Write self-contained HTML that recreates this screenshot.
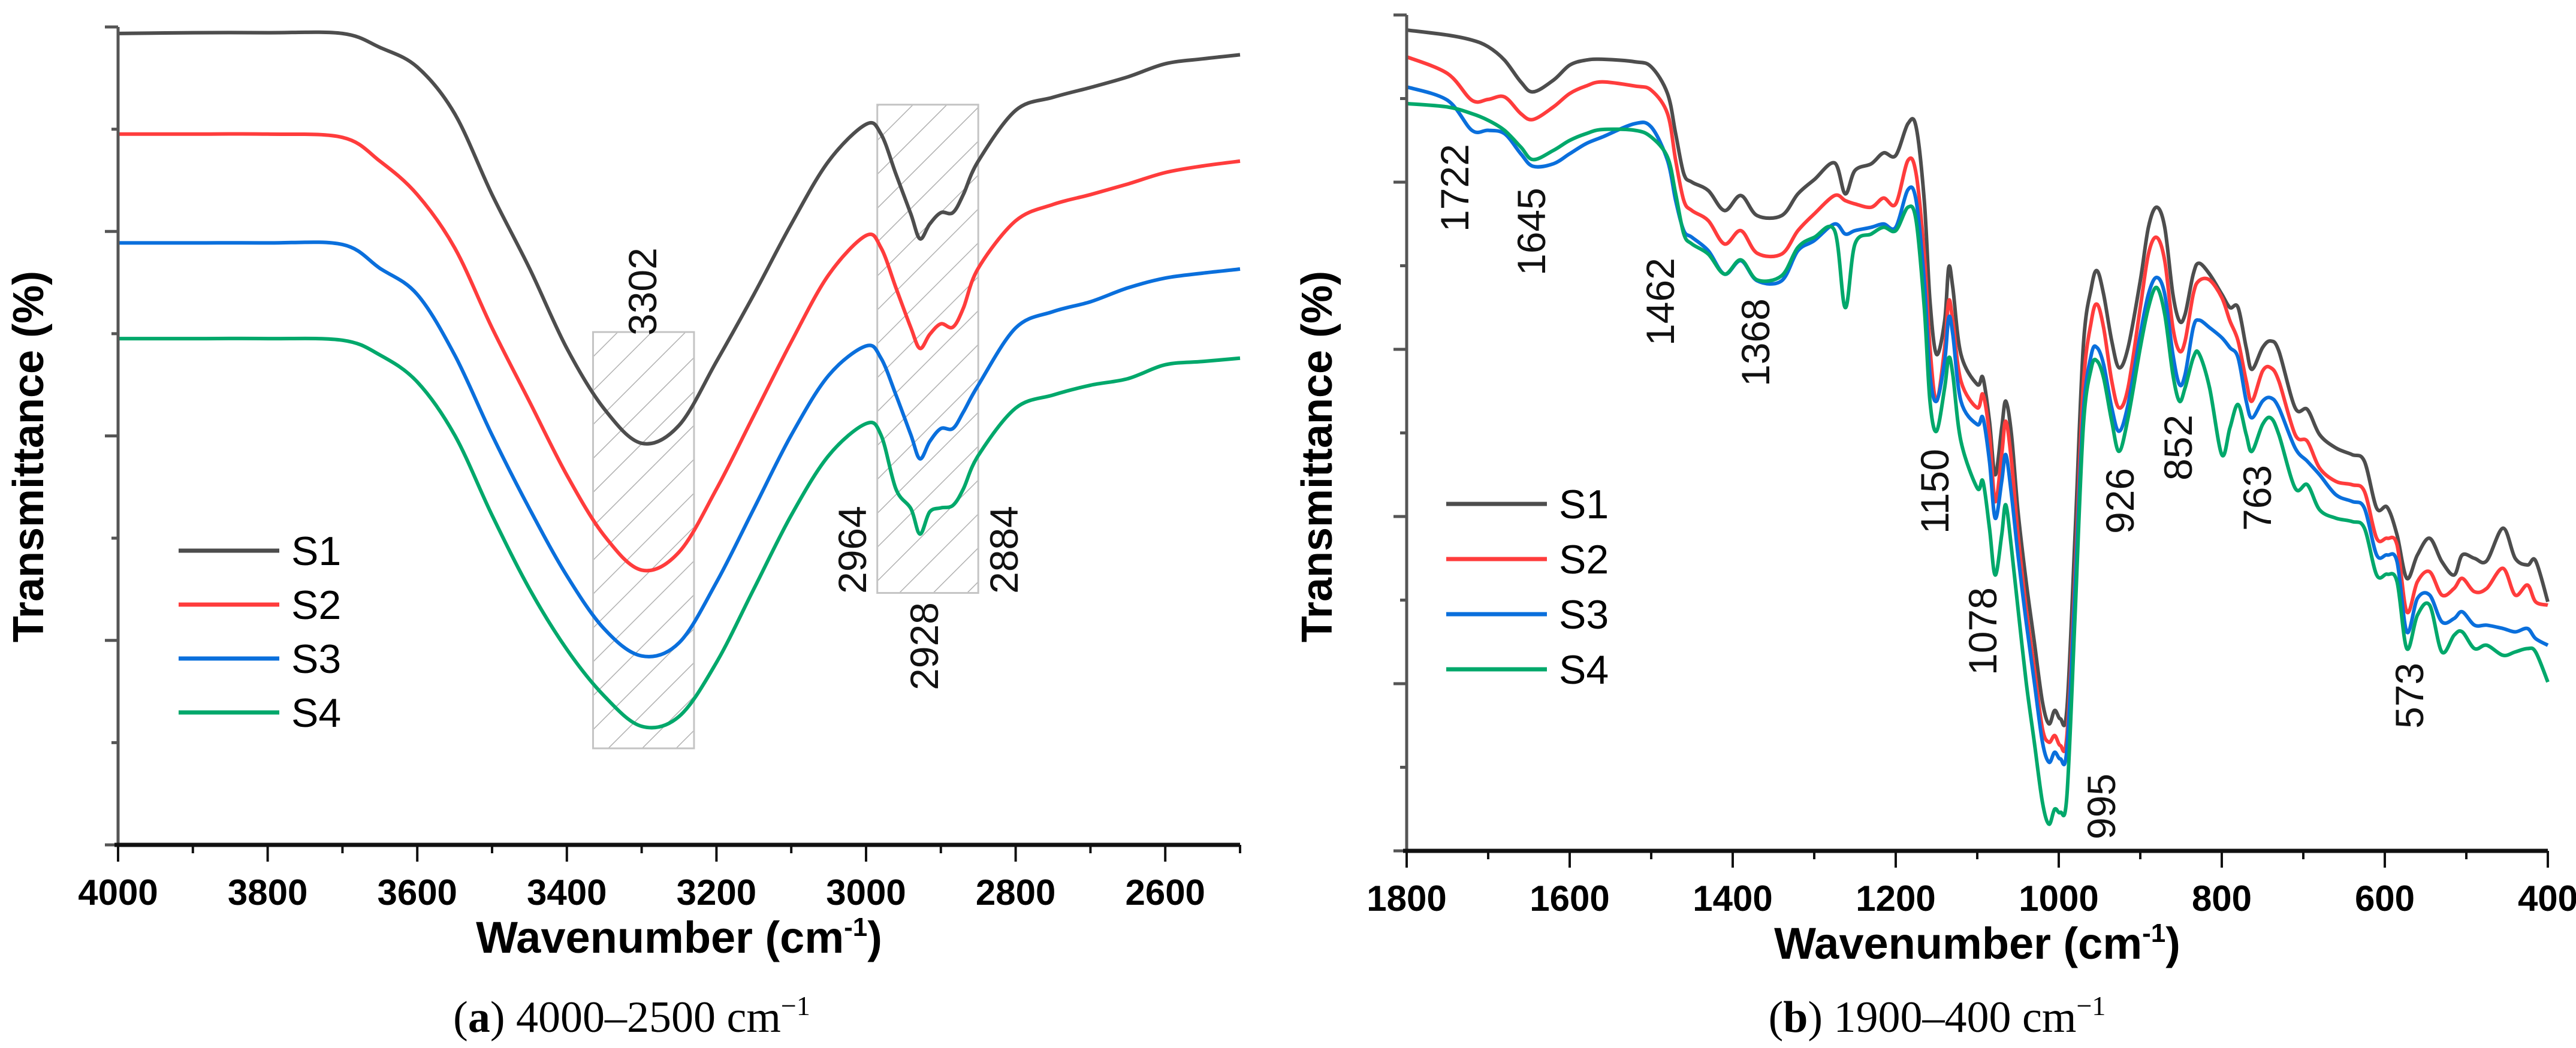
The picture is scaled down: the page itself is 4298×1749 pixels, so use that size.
<!DOCTYPE html>
<html><head><meta charset="utf-8"><style>
html,body{margin:0;padding:0;background:#fff}
svg{display:block}
</style></head><body>
<svg id="chart" width="4298" height="1749" viewBox="0 0 4298 1749" xmlns="http://www.w3.org/2000/svg" font-family="Liberation Sans, Arial, sans-serif">
<defs>
<pattern id="hatch" patternUnits="userSpaceOnUse" width="40" height="40" patternTransform="rotate(45)">
<line x1="0" y1="0" x2="0" y2="40" stroke="#b0b0b0" stroke-width="3"/>
</pattern>
</defs>
<g id="panelA"></g>
<g id="panelB"></g>
</svg>
<script>
const seriesNames = ["S1","S2","S3","S4"];
const seriesColors = ["#4d4d4d","#ff3c3c","#0a6fdc","#00a86b"];

const wnA = [4000,3900,3800,3700,3650,3600,3550,3500,3450,3400,3350,3300,3250,3200,3150,3100,3050,3000,2980,2960,2940,2928,2915,2900,2884,2870,2850,2800,2750,2700,2650,2600,2550,2500];
const a_S1 = [99.2,99.3,99.3,99.2,97.5,95.1,89.4,79.5,70.5,60.7,53.3,49.1,51.3,59.1,67.3,75.9,83.6,88.1,86.9,82.0,77.1,74.1,75.9,77.3,77.3,79.5,83.6,89.8,91.4,92.6,93.9,95.5,96.1,96.6];
const a_S2 = [86.9,86.9,86.9,86.5,83.6,79.5,73.0,63.2,54.2,45.2,37.8,33.6,35.8,43.5,52.5,61.5,69.7,74.5,73.0,68.1,63.2,60.7,62.4,63.7,63.3,65.6,70.5,76.3,78.3,79.5,80.8,82.2,83.0,83.6];
const a_S3 = [73.6,73.6,73.6,73.4,70.5,67.3,59.9,50.1,41.1,32.9,26.4,23.1,24.7,32.1,41.1,50.1,57.4,61.0,59.5,55.0,50.1,47.2,49.3,50.9,50.9,52.9,56.2,63.2,65.2,66.4,68.1,69.3,69.9,70.4];
const a_S4 = [61.9,61.9,61.9,61.7,59.9,56.6,50.1,40.3,31.3,23.9,18.2,14.5,15.7,22.3,31.3,40.3,47.6,51.5,50.1,43.5,41.1,38.0,40.7,41.2,41.5,43.5,47.6,53.4,55.0,56.2,57.0,58.7,59.1,59.5];
const ticksA = [4000,3800,3600,3400,3200,3000,2800,2600];
const peaksA = ["3302","2964","2928","2884"];

const wnB = [1800,1750,1720,1700,1680,1660,1645,1620,1600,1580,1560,1520,1500,1480,1470,1460,1450,1430,1410,1390,1370,1340,1320,1300,1275,1262,1250,1230,1215,1200,1185,1175,1165,1158,1150,1140,1135,1130,1120,1100,1093,1085,1078,1070,1065,1058,1050,1040,1030,1020,1012,1005,998,990,980,970,960,953,945,935,926,915,900,890,880,870,860,852,845,835,828,815,800,790,780,770,763,750,740,730,710,695,680,660,640,625,610,597,585,573,560,545,530,515,505,490,475,455,440,425,415,400];
const b_S1 = [98.2,97.6,97.0,96.2,94.6,92.0,90.8,92.2,94.0,94.6,94.7,94.4,93.8,90.6,85.8,81.0,80.0,79.0,76.6,78.4,76.0,76.0,78.6,80.3,82.3,78.6,81.4,82.2,83.5,83.2,87.0,86.6,77.8,65.8,59.4,63.4,69.8,67.4,59.4,55.8,56.6,51.4,45.0,50.6,53.8,49.8,40.6,32.2,25.0,17.8,15.2,16.8,15.8,17.0,37.8,60.2,67.4,69.4,66.6,61.0,57.8,60.2,68.2,74.6,77.0,74.6,66.6,63.4,64.2,69.0,70.3,69.0,66.6,65.0,65.0,60.2,57.6,60.2,61.0,59.8,53.0,52.8,49.8,48.2,47.4,46.6,41.0,41.1,37.8,32.6,35.4,37.4,34.6,33.0,35.4,35.0,34.7,38.6,35.0,34.2,34.7,29.8];
const b_S2 = [95.0,93.0,89.8,89.9,90.2,88.2,87.5,89.0,90.6,91.5,92.0,91.5,91.0,88.2,82.6,77.8,76.6,75.4,72.6,74.2,71.5,71.4,74.2,76.2,78.4,77.8,77.4,77.0,78.1,77.4,82.6,81.0,71.4,60.2,53.8,60.2,65.8,63.4,56.2,53.0,54.6,49.8,41.8,47.4,51.4,46.6,37.8,29.0,21.8,14.6,13.0,13.8,12.6,13.8,33.0,55.4,63.4,65.4,62.6,56.2,53.0,55.4,65.0,71.4,73.4,70.6,62.6,59.8,61.0,66.6,68.2,68.3,66.2,63.4,61.0,56.2,53.8,57.4,57.8,56.2,49.8,49.0,45.8,44.2,43.8,43.0,37.4,37.4,36.6,28.6,32.2,33.4,30.6,31.4,32.6,31.0,31.4,33.8,30.6,31.8,29.8,29.4];
const b_S3 = [91.4,89.8,86.2,86.2,85.8,83.4,81.9,82.2,83.4,84.6,85.4,87.0,86.6,82.6,77.8,74.2,73.4,71.8,69.0,70.6,68.2,68.2,71.8,73.0,75.0,73.8,74.2,74.6,75.0,74.6,79.1,77.8,68.2,57.0,53.8,58.6,63.8,61.8,53.8,51.0,51.8,46.6,39.8,44.2,47.4,42.6,35.4,27.4,20.2,13.0,10.6,11.8,11.0,12.2,31.4,52.2,59.4,60.2,58.2,53.0,50.2,53.4,61.8,66.6,68.6,66.6,59.4,55.8,57.0,62.6,63.5,62.6,61.4,60.2,59.0,53.8,51.8,53.8,54.2,53.0,48.2,46.6,45.0,42.6,41.8,41.0,35.4,35.4,34.6,26.2,30.2,30.6,27.4,27.8,28.6,27.0,27.0,26.6,26.2,26.6,25.4,24.6];
const b_S4 = [89.4,89.0,88.2,87.4,86.2,84.2,82.7,83.8,85.0,85.8,86.3,86.2,85.4,83.0,78.6,73.8,72.6,71.4,69.0,70.7,68.3,68.8,72.2,73.4,74.2,65.0,72.6,73.8,74.6,74.2,77.0,75.4,65.0,53.8,50.2,55.4,59.0,57.0,49.0,43.4,44.2,38.6,33.0,37.8,41.4,36.2,29.0,20.2,13.0,5.8,3.2,5.0,4.6,6.6,28.2,50.6,57.8,58.6,56.6,51.4,47.8,51.8,60.2,65.0,67.4,64.2,57.0,53.8,55.4,59.0,59.5,55.4,47.4,50.6,53.4,49.8,47.8,51.0,51.8,49.8,43.4,43.8,40.8,39.8,39.4,38.6,33.0,33.1,32.2,24.2,28.2,29.4,23.8,25.8,26.2,24.2,24.6,23.4,23.8,24.2,23.8,20.2];
const ticksB = [1800,1600,1400,1200,1000,800,600,400];
const peaksB = ["1722","1645","1462","1368","1150","1078","995","926","852","763","573"];

const NS = "http://www.w3.org/2000/svg";
function mk(parent, tag, attrs, txt){
  const e = document.createElementNS(NS, tag);
  for (const k in attrs) e.setAttribute(k, attrs[k]);
  if (txt !== undefined) e.textContent = txt;
  parent.appendChild(e);
  return e;
}
function smoothPath(pts){
  let d = "M" + pts[0][0].toFixed(1) + "," + pts[0][1].toFixed(1);
  for (let i = 0; i < pts.length - 1; i++){
    const p0 = pts[Math.max(0,i-1)], p1 = pts[i], p2 = pts[i+1], p3 = pts[Math.min(pts.length-1,i+2)];
    const c1x = p1[0] + (p2[0]-p0[0])/6, c1y = p1[1] + (p2[1]-p0[1])/6;
    const c2x = p2[0] - (p3[0]-p1[0])/6, c2y = p2[1] - (p3[1]-p1[1])/6;
    d += " C" + c1x.toFixed(1) + "," + c1y.toFixed(1) + " " + c2x.toFixed(1) + "," + c2y.toFixed(1) + " " + p2[0].toFixed(1) + "," + p2[1].toFixed(1);
  }
  return d;
}

function drawPanel(g, cfg){
  const xs = v => cfg.x0 + (cfg.wMax - v) / (cfg.wMax - cfg.wMin) * (cfg.x1 - cfg.x0);
  const ys = v => cfg.yB - v / 100 * (cfg.yB - cfg.yT);
  cfg.boxes.forEach(b => {
    const r = mk(g, "rect", {x: xs(b[0]), y: ys(b[2]), width: xs(b[1]) - xs(b[0]), height: ys(b[3]) - ys(b[2]), fill: "url(#hatch)", stroke: "#c4c4c4", "stroke-width": 3});
    
    
  });
  cfg.series.forEach((vals, i) => {
    const pts = cfg.wn.map((w, j) => [xs(w), ys(vals[j])]);
    const p = mk(g, "path", {d: smoothPath(pts), fill: "none", stroke: seriesColors[i], "stroke-width": 6, "stroke-linejoin": "round"});
    
    
  });
  const ya = mk(g, "line", {x1: cfg.x0, y1: cfg.yT, x2: cfg.x0, y2: cfg.yB, stroke: "#555", "stroke-width": 5});
  
  
  for (let k = 0; k <= cfg.nY; k++){
    const y = cfg.yT + k * (cfg.yB - cfg.yT) / cfg.nY;
    const len = (k % 2 === 0) ? 22 : 11;
    const t = mk(g, "line", {x1: cfg.x0 - len, y1: y, x2: cfg.x0, y2: y, stroke: "#555", "stroke-width": 5});
    
    
  }
  const xa = mk(g, "line", {x1: cfg.x0 - 6, y1: cfg.yB, x2: cfg.x1, y2: cfg.yB, stroke: "#111", "stroke-width": 7});
  
  
  for (let w = cfg.wMax; w >= cfg.wMin; w -= 100){
    const major = cfg.ticks.includes(w);
    const x = xs(w);
    const t = mk(g, "line", {x1: x, y1: cfg.yB, x2: x, y2: cfg.yB + (major ? 28 : 14), stroke: "#111", "stroke-width": 4});
    
    
  }
  cfg.ticks.forEach(w => {
    const t = mk(g, "text", {x: xs(w), y: cfg.yB + 100, "text-anchor": "middle", "font-size": 60, "font-weight": "bold", fill: "#000"}, String(w));
    
    
  });
  const xt = mk(g, "text", {x: (cfg.x0 + cfg.x1) / 2, y: cfg.yB + 180, "text-anchor": "middle", "font-size": 74, "font-weight": "bold", fill: "#000"});
  
  
  mk(xt, "tspan", {}, "Wavenumber (cm");
  mk(xt, "tspan", {dy: -28, "font-size": 44}, "-1");
  mk(xt, "tspan", {dy: 28}, ")");
  const yt = mk(g, "text", {x: 0, y: 0, "text-anchor": "middle", "font-size": 72, "font-weight": "bold", fill: "#000", transform: "translate(" + (cfg.x0 - 125) + "," + cfg.yTitle + ") rotate(-90)"}, "Transmittance (%)");
  
  
  const cap = mk(g, "text", {x: cfg.capX, y: 1722, "text-anchor": "middle", "font-size": 74, fill: "#000", "font-family": "Liberation Serif, serif"});
  
  
  mk(cap, "tspan", {}, "(");
  mk(cap, "tspan", {"font-weight": "bold"}, cfg.capLetter);
  mk(cap, "tspan", {}, ") " + cfg.capRange + " cm");
  mk(cap, "tspan", {dy: -28, "font-size": 46}, "\u22121");
  seriesNames.forEach((n, i) => {
    const y = cfg.legY + i * cfg.legDy;
    const l = mk(g, "line", {x1: cfg.legX, y1: y, x2: cfg.legX + 168, y2: y, stroke: seriesColors[i], "stroke-width": 7});
    
    
    const t = mk(g, "text", {x: cfg.legX + 188, y: y + 24, "font-size": 68, fill: "#000"}, n);
    
    
  });
  cfg.peaks.forEach((lbl, i) => {
    const pos = cfg.peakPos[i];
    const t = mk(g, "text", {x: 0, y: 0, "font-size": 66, fill: "#111", transform: "translate(" + (pos[0] + 23) + "," + pos[1] + ") rotate(-90)"}, lbl);
    
    
  });
}

drawPanel(document.getElementById("panelA"), {
  x0: 197, x1: 2069, wMax: 4000, wMin: 2500, yT: 45, yB: 1410, nY: 8,
  wn: wnA, series: [a_S1, a_S2, a_S3, a_S4], ticks: ticksA,
  boxes: [[3365, 3230, 62.7, 11.8], [2985, 2850, 90.5, 30.8]],
  legX: 298, legY: 919, legDy: 90, yTitle: 762,
  capX: 1054, capLetter: "a", capRange: "4000\u20132500",
  peaks: peaksA,
  peakPos: [[1072, 560], [1422, 991], [1542, 1152], [1675, 991]]
});
drawPanel(document.getElementById("panelB"), {
  x0: 2347, x1: 4251, wMax: 1800, wMin: 400, yT: 25, yB: 1420, nY: 10,
  wn: wnB, series: [b_S1, b_S2, b_S3, b_S4], ticks: ticksB,
  boxes: [],
  legX: 2413, legY: 841, legDy: 92, yTitle: 762,
  capX: 3232, capLetter: "b", capRange: "1900\u2013400",
  peaks: peaksB,
  peakPos: [[2427, 387], [2555, 460], [2770, 577], [2929, 645], [3228, 891], [3308, 1127], [3506, 1401], [3537, 891], [3634, 802], [3766, 886], [4020, 1216]]
});
</script>
</body></html>
